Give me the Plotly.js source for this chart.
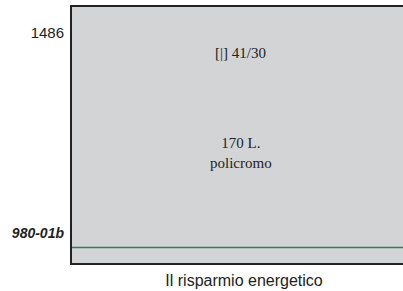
<!DOCTYPE html>
<html>
<head>
<meta charset="utf-8">
<script src="https://cdn.plot.ly/plotly-3.0.1.min.js"></script>
<style>
html,body{margin:0;padding:0;overflow:hidden;background:#fff;}
#chart{width:420px;height:291px;}
</style>
</head>
<body>
<div id="chart"></div>
<script>
// Data
const yTickValues = [0, 1];
const yTickLabels = ["<span style=\"font-size:14px\"><b><i>980-01b</i></b></span>", "1486"];
const lineX = [0, 1];
const lineY = [-0.073, -0.073];
const labelTexts = ["[|] 41/30", "170 L.<br>policromo"];
const labelX = [0.49, 0.49];
const labelY = [0.9, 0.4];
const xTitle = "Il risparmio energetico";

const traces = [{
  type: "scatter",
  mode: "lines",
  x: lineX,
  y: lineY,
  line: {color: "#2e7f58", width: 1.5},
  hoverinfo: "skip",
  showlegend: false
}];

const annotations = labelTexts.map((t, i) => ({
  x: labelX[i], y: labelY[i], xref: "x", yref: "y",
  text: t, showarrow: false,
  font: {family: "Liberation Serif, Times New Roman, serif", size: 15, color: "#222"}
}));

const layout = {
  width: 420, height: 291,
  margin: {l: 72, r: 4, t: 7, b: 28, pad: 0},
  paper_bgcolor: "#ffffff",
  plot_bgcolor: "#d3d4d6",
  showlegend: false,
  xaxis: {
    range: [0, 1], showticklabels: false, ticks: "", showgrid: false, zeroline: false,
    showline: true, linecolor: "#222", linewidth: 2, mirror: true,
    title: {text: xTitle, standoff: 11, font: {family: "Liberation Sans, Arial, sans-serif", size: 16, color: "#222"}},
    automargin: false, fixedrange: true
  },
  yaxis: {
    range: [-0.15, 1.13], tickvals: yTickValues, ticktext: yTickLabels,
    ticks: "", ticklen: 0, showgrid: false, zeroline: false,
    showline: true, linecolor: "#222", linewidth: 2, mirror: true,
    tickfont: {family: "Liberation Sans, Arial, sans-serif", size: 15, color: "#222"},
    ticklabelstandoff: 3,
    automargin: false, fixedrange: true
  },
  annotations: annotations
};

Plotly.newPlot("chart", traces, layout, {displayModeBar: false, staticPlot: true});
</script>
</body>
</html>
